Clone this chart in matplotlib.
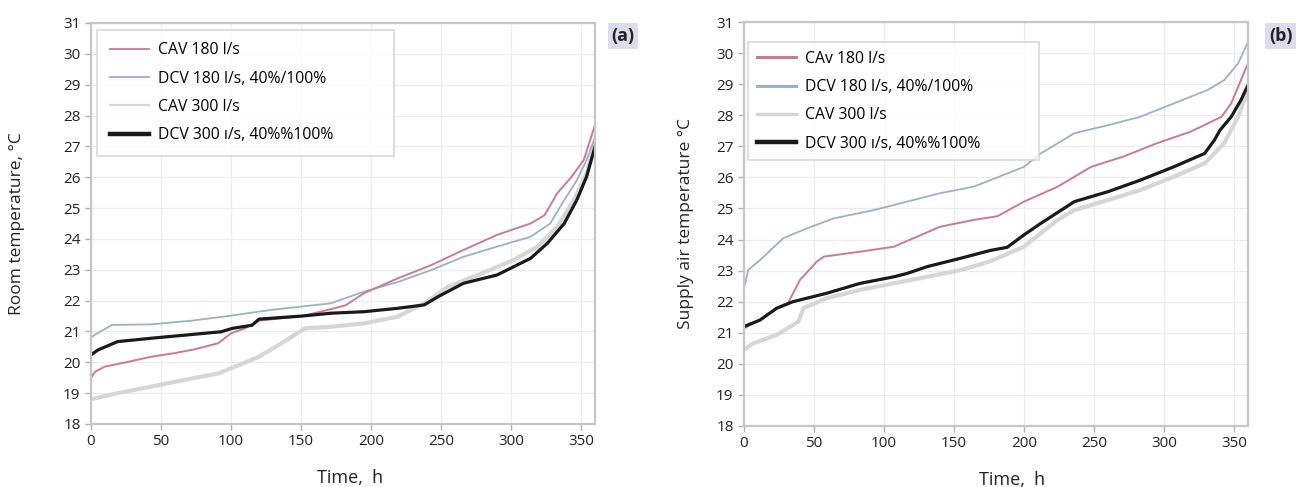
import matplotlib
matplotlib.use("Agg")
import matplotlib.pyplot as plt

plt.rcParams['font.family'] = ['Open Sans', 'DejaVu Sans']

# ===============================
# Data
# ===============================
# (a) room temperature
a_cav180_t = [0, 3, 10, 25, 43, 60, 74, 91, 100, 110, 120, 151, 171, 182, 195, 219, 243, 266, 290, 314, 324, 333, 343, 352, 360]
a_cav180 = [19.5, 19.7, 19.86, 20.0, 20.18, 20.3, 20.42, 20.62, 20.94, 21.1, 21.35, 21.5, 21.72, 21.85, 22.24, 22.72, 23.15, 23.64, 24.13, 24.5, 24.77, 25.48, 26.0, 26.56, 27.7]

a_dcv180_t = [0, 3, 15, 43, 72, 98, 129, 171, 195, 219, 243, 266, 290, 314, 328, 338, 347, 354, 360]
a_dcv180 = [20.8, 20.9, 21.21, 21.23, 21.35, 21.5, 21.7, 21.91, 22.29, 22.6, 22.99, 23.42, 23.75, 24.07, 24.5, 25.26, 25.9, 26.56, 27.3]

a_cav300_t = [0, 19, 43, 67, 91, 103, 120, 134, 153, 171, 195, 219, 238, 255, 279, 302, 319, 333, 345, 354, 360]
a_cav300 = [18.8, 19.0, 19.21, 19.43, 19.64, 19.86, 20.18, 20.56, 21.1, 21.15, 21.26, 21.48, 21.91, 22.45, 22.88, 23.32, 23.75, 24.4, 25.26, 26.13, 27.1]

a_dcv300_t = [0, 5, 19, 43, 67, 93, 101, 115, 120, 151, 171, 195, 219, 238, 248, 266, 290, 314, 326, 338, 347, 354, 360]
a_dcv300 = [20.24, 20.4, 20.67, 20.78, 20.88, 20.99, 21.1, 21.2, 21.4, 21.5, 21.59, 21.64, 21.75, 21.86, 22.13, 22.56, 22.83, 23.37, 23.86, 24.5, 25.26, 26.02, 26.99]

# (b) supply air temperature
b_cav180_t = [0, 11, 23, 31.6, 40, 52, 57, 83, 107, 140, 164, 181, 200, 224, 248, 271, 295, 319, 341, 348, 354, 360]
b_cav180 = [21.14, 21.41, 21.79, 21.97, 22.7, 23.29, 23.45, 23.61, 23.77, 24.41, 24.63, 24.75, 25.22, 25.7, 26.34, 26.67, 27.1, 27.47, 27.95, 28.38, 29.03, 29.67]

b_dcv180_t = [0, 1, 3, 11.5, 28, 45, 64, 93, 116.5, 140, 164, 181, 200, 212, 236, 260, 283, 307, 331, 343, 353, 360]
b_dcv180 = [22.5, 22.6, 23.02, 23.34, 24.04, 24.36, 24.68, 24.95, 25.22, 25.49, 25.7, 26.0, 26.34, 26.77, 27.42, 27.68, 27.95, 28.38, 28.81, 29.13, 29.67, 30.36]

b_cav300_t = [0, 6.7, 23.4, 38.9, 42.5, 59, 83, 107, 131, 155, 176, 200, 224, 236, 260, 283, 307, 329, 343, 353, 360]
b_cav300 = [20.45, 20.66, 20.93, 21.36, 21.79, 22.11, 22.38, 22.59, 22.8, 23.02, 23.3, 23.77, 24.63, 24.95, 25.27, 25.59, 26.02, 26.45, 27.1, 27.95, 28.81]

b_dcv300_t = [0, 11.5, 23.4, 35, 59, 83, 107, 116.5, 131, 155, 176, 188, 200, 212, 236, 260, 283, 307, 329, 336, 340, 348, 355, 360]
b_dcv300 = [21.2, 21.41, 21.79, 22.0, 22.27, 22.59, 22.8, 22.91, 23.13, 23.4, 23.65, 23.75, 24.15, 24.52, 25.22, 25.54, 25.91, 26.34, 26.77, 27.2, 27.52, 27.95, 28.49, 28.97]

labels_a = ["CAV 180 l/s", "DCV 180 l/s, 40%/100%", "CAV 300 l/s", "DCV 300 ı/s, 40%%100%"]
labels_b = ["CAv 180 l/s", "DCV 180 l/s, 40%/100%", "CAV 300 l/s", "DCV 300 ı/s, 40%%100%"]

x_ticks = [0, 50, 100, 150, 200, 250, 300, 350]
y_ticks = list(range(18, 32))

# ===============================
# Styles
# ===============================
PINK = "#c97b93"
BLUE = "#9ab0cc"
GRAY = "#d6d6d6"
BLACK = "#1a1a1a"
SPINE = "#c6c6c6"

fig = plt.figure(figsize=(13, 4.87), dpi=100)
ax_a = fig.add_axes([0.070, 0.1294, 0.3877, 0.8234])
ax_b = fig.add_axes([0.5723, 0.1253, 0.3877, 0.8295])


def style_axes(ax, ylabel, ylab_x, xlab_x):
    ax.set_xlim(0, 360)
    ax.set_ylim(18, 31)
    ax.set_xticks(x_ticks)
    ax.set_yticks(y_ticks)
    ax.grid(True, color="#ececec", lw=0.9)
    ax.set_axisbelow(True)
    for s in ax.spines.values():
        s.set_color(SPINE)
        s.set_linewidth(1.6)
    ax.tick_params(axis="both", colors="#b0b0b0", labelcolor="#222222",
                   labelsize=11, length=4, width=1)
    ax.set_ylabel(ylabel, fontsize=12.5, color="#222222")
    ax.yaxis.set_label_coords(ylab_x, 0.5)
    ax.set_xlabel("Time,  h", fontsize=13, color="#222222")
    ax.xaxis.set_label_coords(xlab_x, -0.112)


def add_legend(ax, anchor, pad, handle_lw):
    h, l = ax.get_legend_handles_labels()
    order = [2, 1, 0, 3]
    leg = ax.legend([h[i] for i in order], [l[i] for i in order],
                    loc="upper left", bbox_to_anchor=anchor, mode="expand",
                    fontsize=11.3, frameon=True, fancybox=False,
                    edgecolor="#d0d0d0", handlelength=2.5, labelspacing=0.78,
                    borderpad=pad, handletextpad=0.6, borderaxespad=0)
    leg.get_frame().set_linewidth(1.2)
    for line, lw in zip(leg.get_lines(), handle_lw):
        line.set_linewidth(lw)


# ---- panel (a)
ax_a.plot(a_cav300_t, a_cav300, color=GRAY, lw=3.0, label=labels_a[2])
ax_a.plot(a_dcv180_t, a_dcv180, color=BLUE, lw=1.3, label=labels_a[1])
ax_a.plot(a_cav180_t, a_cav180, color=PINK, lw=1.4, label=labels_a[0])
ax_a.plot(a_dcv300_t, a_dcv300, color=BLACK, lw=2.3, label=labels_a[3])
style_axes(ax_a, "Room temperature, °C", -0.131, 0.514)
add_legend(ax_a, (0.012, 0.0, 0.589, 0.983), 0.8, [1.3, 1.3, 1.6, 3.2])

# ---- panel (b)
ax_b.plot(b_cav300_t, b_cav300, color=GRAY, lw=3.0, label=labels_b[2])
ax_b.plot(b_dcv180_t, b_dcv180, color=BLUE, lw=1.3, label=labels_b[1])
ax_b.plot(b_cav180_t, b_cav180, color=PINK, lw=1.4, label=labels_b[0])
ax_b.plot(b_dcv300_t, b_dcv300, color=BLACK, lw=2.3, label=labels_b[3])
style_axes(ax_b, "Supply air temperature °C", -0.100, 0.532)
add_legend(ax_b, (0.008, 0.0, 0.577, 0.950), 0.55, [2.2, 2.2, 2.4, 3.2])

# panel tags
for x, tag in [(0.479, "(a)"), (0.985, "(b)")]:
    fig.text(x, 0.926, tag, ha="center", va="center", fontsize=13,
             fontweight="bold", color="#222222",
             bbox=dict(boxstyle="square,pad=0.2", facecolor="#dcdcec", edgecolor="none"))

fig.savefig("out.png", dpi=100)
